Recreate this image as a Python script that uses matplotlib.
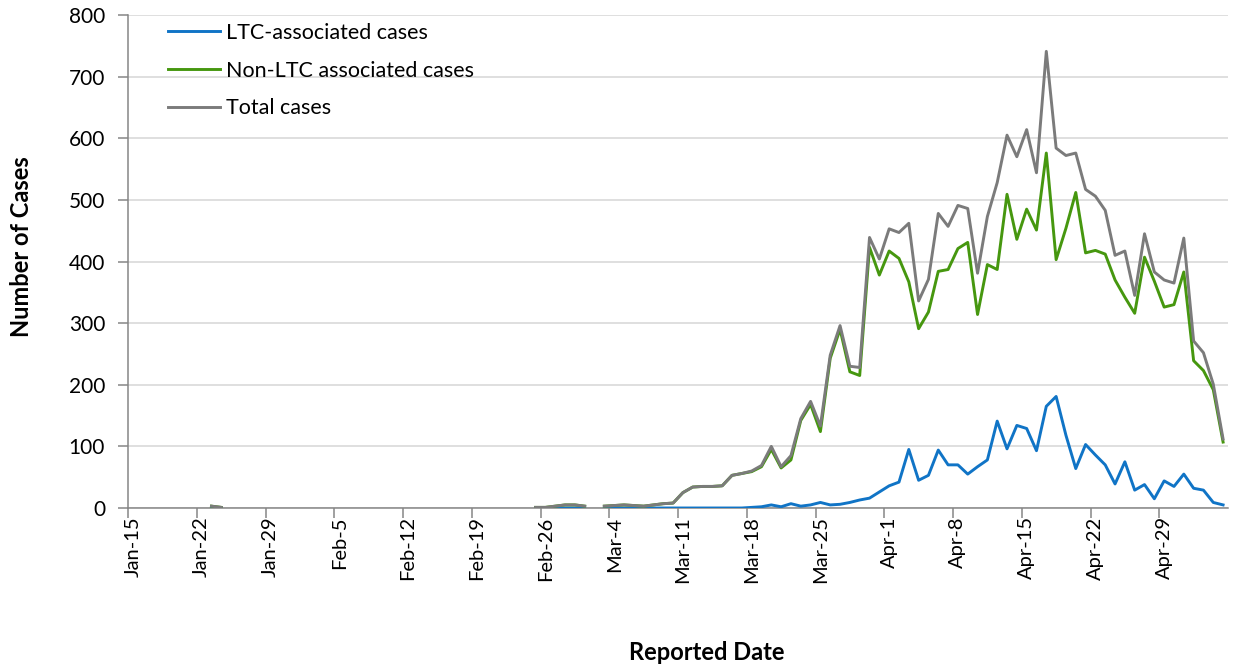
import numpy as np
import pandas as pd
import matplotlib
matplotlib.use("Agg")
import matplotlib.pyplot as plt
from matplotlib.lines import Line2D

# ---------------- data ----------------
# reported dates that have data (gaps elsewhere)
data_dates = (list(pd.date_range("2020-01-23", "2020-01-24"))
              + list(pd.date_range("2020-02-25", "2020-03-01"))
              + list(pd.date_range("2020-03-03", "2020-05-05")))

ltc_cases = [0, 0,
             0, 0, 0, 0, 0, 0,
             0, 0, 0, 0, 0, 0, 0, 0, 0, 0, 0, 0, 0, 0, 0,
             1, 2, 5, 2, 7, 3, 5, 9, 5, 6, 9, 13, 16, 26,
             36, 42, 95, 45, 53, 94, 70, 70, 55, 67, 78, 141, 96, 134,
             129, 93, 165, 181, 118, 64, 103, 86, 70, 39, 75, 29, 38, 15,
             44, 35, 55, 32, 29, 9, 5]

non_ltc_cases = [3, 1,
                 1, 1, 3, 5, 5, 3,
                 3, 4, 5, 4, 3, 5, 7, 8, 25, 34, 35, 35, 36, 53, 56,
                 59, 67, 95, 65, 78, 142, 168, 124, 243, 290, 221, 215, 423, 378,
                 417, 405, 367, 291, 318, 384, 387, 421, 431, 314, 395, 387, 509, 436,
                 485, 451, 576, 403, 454, 512, 414, 418, 412, 370, 342, 316, 407, 368,
                 326, 330, 383, 239, 223, 192, 107]

total_cases = [3, 1,
               1, 1, 3, 5, 5, 3,
               3, 4, 5, 4, 3, 5, 7, 8, 25, 34, 35, 35, 36, 53, 56,
               60, 69, 100, 67, 85, 145, 173, 133, 248, 296, 230, 228, 439, 404,
               453, 447, 462, 336, 371, 478, 457, 491, 486, 381, 473, 528, 605, 570,
               614, 544, 741, 584, 572, 576, 517, 506, 483, 410, 417, 345, 445, 383,
               370, 365, 438, 271, 252, 201, 112]

tick_labels = ["Jan-15", "Jan-22", "Jan-29", "Feb-5", "Feb-12", "Feb-19", "Feb-26",
               "Mar-4", "Mar-11", "Mar-18", "Mar-25", "Apr-1", "Apr-8", "Apr-15",
               "Apr-22", "Apr-29"]
series_names = ["LTC-associated cases", "Non-LTC associated cases", "Total cases"]
y_ticks = [0, 100, 200, 300, 400, 500, 600, 700, 800]

# ---------------- build table on full daily axis ----------------
full_range = pd.date_range("2020-01-15", "2020-05-05")
df = pd.DataFrame({"ltc": ltc_cases, "non": non_ltc_cases, "tot": total_cases},
                  index=pd.DatetimeIndex(data_dates)).reindex(full_range)
x = np.arange(len(full_range))

# ---------------- plot ----------------
plt.rcParams["font.family"] = ["Lato", "DejaVu Sans"]
W, H = 1233, 668
fig = plt.figure(figsize=(W / 100, H / 100), dpi=100)
ax = fig.add_axes([128 / W, 1 - 508 / H, (1228 - 128) / W, (508 - 15) / H])

c_blue = "#1074C6"
c_green = "#46970F"
c_gray = "#7B7B7B"

ax.plot(x, df["ltc"].values, color=c_blue, lw=2.1, solid_joinstyle="round", zorder=3)
ax.plot(x, df["non"].values, color=c_green, lw=2.1, solid_joinstyle="round", zorder=4)
ax.plot(x, df["tot"].values, color=c_gray, lw=2.1, solid_joinstyle="round", zorder=5)

ax.set_xlim(-0.5, len(full_range) - 0.5)
ax.set_ylim(0, 800)

ax.set_yticks(y_ticks)
ax.set_yticklabels([str(v) for v in y_ticks])
ax.yaxis.grid(True, color="#D9D9D9", lw=1.2)
ax.set_axisbelow(True)

tick_days = np.arange(0, 7 * len(tick_labels), 7)
ax.set_xticks(tick_days - 0.5)
ax.set_xticklabels([])
ax.set_xticks(tick_days, minor=True)
ax.set_xticklabels(tick_labels, minor=True, rotation=90, fontsize=14.5)
ax.tick_params(axis="x", which="major", length=7, width=1.1, color="#868686", direction="out")
ax.tick_params(axis="x", which="minor", length=0, pad=6)
ax.tick_params(axis="y", which="major", length=7, width=1.1, color="#868686",
               labelsize=15, pad=9.5)

for s in ["top", "right"]:
    ax.spines[s].set_visible(False)
for s in ["left", "bottom"]:
    ax.spines[s].set_color("#868686")
    ax.spines[s].set_linewidth(1.1)

handles = [Line2D([], [], color=c, lw=2.1) for c in (c_blue, c_green, c_gray)]
leg = ax.legend(handles, series_names, loc="upper left", bbox_to_anchor=(0.0364, 0.984),
                frameon=False, fontsize=15.5, handlelength=2.42, handletextpad=0.28,
                labelspacing=0.82, borderaxespad=0, borderpad=0)

fig.text(22 / W, 1 - 247 / H, "Number of Cases", rotation=90, ha="center", va="center",
         fontsize=17, fontweight="bold")
fig.text(707 / W, 1 - 653 / H, "Reported Date", ha="center", va="center",
         fontsize=17, fontweight="bold")

fig.savefig("out.png", dpi=100)
